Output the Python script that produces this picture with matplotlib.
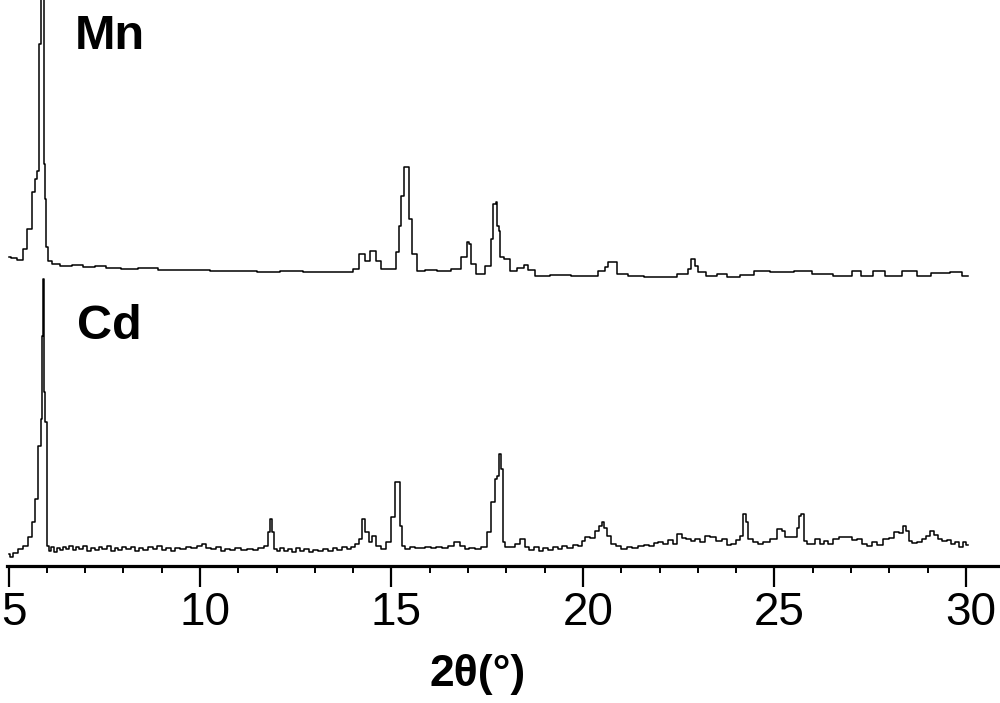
import matplotlib
matplotlib.use('Agg')
import matplotlib.pyplot as plt
import matplotlib.transforms as mtransforms
from matplotlib.ticker import MultipleLocator

plt.rcParams['font.family'] = ['Liberation Sans', 'DejaVu Sans']

# 2theta (deg) and intensity (arb. units)
mn_x = [5.00, 5.15, 5.30, 5.43, 5.56, 5.64, 5.72, 5.77, 5.82, 5.87, 5.90, 5.93, 5.98, 5.99,
        6.08, 6.21, 6.50, 6.80, 7.10, 7.39, 7.70, 8.17, 8.60, 9.20, 10.00, 10.50, 11.20,
        11.80, 12.40, 13.00, 13.50, 13.92, 14.05, 14.24, 14.37, 14.52, 14.66, 14.78,
        15.10, 15.15, 15.22, 15.30, 15.35, 15.43, 15.48, 15.61, 15.74, 16.00, 16.40,
        16.71, 16.92, 17.00, 17.05, 17.10, 17.31, 17.57, 17.62, 17.70, 17.75, 17.78,
        17.83, 17.86, 18.02, 18.17, 18.41, 18.49, 18.62, 18.88, 19.40, 20.00, 20.31,
        20.50, 20.63, 20.70, 20.83, 20.96, 21.41, 21.80, 22.19, 22.71, 22.79, 22.87,
        22.98, 23.05, 23.40, 23.58, 23.92, 24.30, 24.62, 25.15, 25.85, 26.11, 26.97,
        27.10, 27.41, 27.76, 28.02, 28.62, 28.80, 29.40, 29.77, 30.05]
mn_y = [309, 308, 306, 317, 337, 374, 387, 395, 522, 620, 640, 402, 367, 319,
        305, 302, 300, 301, 299, 300, 298, 297, 298, 296, 296, 295, 295,
        294, 295, 294, 294, 294, 297, 312, 305, 315, 305, 297,
        297, 314, 340, 370, 399, 399, 347, 312, 295, 296, 295,
        297, 309, 324, 322, 302, 292, 300, 327, 362, 364, 340,
        335, 309, 307, 295, 298, 301, 296, 290, 291, 290, 290,
        295, 299, 304, 304, 292, 290, 289, 289, 292, 297, 307,
        300, 294, 290, 292, 289, 291, 295, 294, 295, 292, 290,
        295, 290, 295, 290, 295, 290, 293, 294, 290]

cd_x = [5.00, 5.08, 5.17, 5.30, 5.45, 5.56, 5.64, 5.74, 5.82, 5.87, 5.90, 5.91, 5.95, 5.98,
        6.01, 6.08, 6.15, 6.22, 6.30, 6.38, 6.46, 6.55, 6.63, 6.72, 6.80, 6.90, 7.00,
        7.10, 7.20, 7.30, 7.40, 7.50, 7.62, 7.72, 7.82, 7.92, 8.02, 8.12, 8.25, 8.35,
        8.45, 8.58, 8.70, 8.82, 8.95, 9.05, 9.18, 9.30, 9.42, 9.55, 9.70, 9.85, 10.00,
        10.10, 10.22, 10.35, 10.48, 10.60, 10.72, 10.85, 11.00, 11.15, 11.30, 11.45,
        11.60, 11.75, 11.80, 11.85, 11.91, 11.96, 12.05, 12.15, 12.25, 12.35, 12.45,
        12.55, 12.65, 12.78, 12.90, 13.02, 13.15, 13.28, 13.40, 13.52, 13.65, 13.78,
        13.90, 14.00, 14.10, 14.19, 14.27, 14.37, 14.44, 14.52, 14.66, 14.78, 14.91,
        15.04, 15.15, 15.22, 15.25, 15.30, 15.40, 15.55, 15.68, 15.80, 15.95, 16.10,
        16.25, 16.40, 16.53, 16.71, 16.85, 16.97, 17.10, 17.25, 17.44, 17.57, 17.65,
        17.75, 17.78, 17.83, 17.89, 17.91, 18.04, 18.17, 18.30, 18.41, 18.54, 18.65,
        18.78, 18.90, 19.02, 19.14, 19.28, 19.40, 19.52, 19.66, 19.80, 19.92, 20.02,
        20.11, 20.25, 20.37, 20.45, 20.52, 20.58, 20.65, 20.79, 20.92, 21.05, 21.23,
        21.35, 21.50, 21.67, 21.80, 21.90, 22.01, 22.15, 22.30, 22.40, 22.53, 22.65,
        22.75, 22.87, 23.00, 23.12, 23.25, 23.40, 23.55, 23.70, 23.82, 23.92, 24.05,
        24.15, 24.23, 24.28, 24.36, 24.50, 24.62, 24.80, 24.96, 25.15, 25.23, 25.33,
        25.54, 25.62, 25.67, 25.74, 25.80, 25.90, 26.00, 26.12, 26.25, 26.35, 26.45,
        26.60, 26.79, 26.95, 27.10, 27.23, 27.35, 27.49, 27.62, 27.75, 27.94, 28.05,
        28.20, 28.30, 28.41, 28.47, 28.54, 28.65, 28.80, 28.92, 29.00, 29.11, 29.20,
        29.32, 29.45, 29.55, 29.66, 29.78, 29.88, 29.95, 30.05]
cd_y = [12, 9, 13, 17, 20, 29, 44, 67, 120, 147, 230, 287, 174, 144,
        20, 15, 19, 14, 18, 16, 19, 17, 20, 16, 19, 17, 20,
        15, 18, 16, 19, 17, 20, 15, 18, 16, 19, 17, 19, 15,
        18, 16, 19, 17, 20, 16, 18, 15, 18, 17, 19, 18, 20,
        22, 18, 17, 19, 15, 17, 16, 18, 16, 17, 16,
        18, 20, 34, 47, 34, 17, 15, 18, 15, 17, 14,
        18, 15, 17, 14, 16, 15, 17, 15, 18, 16, 19,
        17, 19, 22, 27, 47, 34, 24, 30, 20, 17, 24,
        49, 84, 84, 40, 20, 17, 19, 18, 18, 19, 18,
        19, 18, 20, 24, 20, 17, 18, 17, 19, 34, 64,
        87, 90, 112, 97, 24, 19, 19, 22, 27, 19, 16,
        19, 15, 18, 16, 19, 17, 20, 18, 21, 20, 25,
        29, 28, 35, 40, 44, 38, 30, 22, 20, 17, 19,
        18, 20, 21, 20, 23, 24, 22, 26, 22, 32, 28,
        27, 25, 27, 24, 30, 29, 25, 27, 21, 22, 26,
        30, 52, 44, 27, 24, 22, 24, 27, 37, 35, 29,
        29, 38, 50, 52, 25, 22, 22, 27, 22, 25, 22,
        27, 29, 29, 26, 27, 22, 20, 24, 21, 27, 28,
        34, 33, 40, 35, 25, 23, 24, 27, 30, 35, 31,
        27, 25, 26, 22, 24, 19, 24, 21]

labels = ['Mn', 'Cd']

fig = plt.figure(figsize=(10, 7.03), dpi=100)
ax = fig.add_axes([0.007, 0.195, 0.993, 0.805])

ax.plot(mn_x, mn_y, color='black', lw=1.1, drawstyle='steps-mid')
ax.plot(cd_x, cd_y, color='black', lw=1.1, drawstyle='steps-mid')

ax.text(6.72, 517, labels[0], fontsize=35, fontweight='bold', ha='left', va='baseline')
ax.text(6.78, 227, labels[1], fontsize=35, fontweight='bold', ha='left', va='baseline')

ax.set_xlim(4.96, 30.89)
ax.set_ylim(0, 566)

for s in ['left', 'right', 'top']:
    ax.spines[s].set_visible(False)
ax.spines['bottom'].set_linewidth(2.3)
ax.set_yticks([])

ax.xaxis.set_major_locator(MultipleLocator(5))
ax.xaxis.set_minor_locator(MultipleLocator(1))
ax.tick_params(axis='x', which='major', direction='out', length=15, width=1.6,
               labelsize=33, pad=3)
ax.tick_params(axis='x', which='minor', direction='out', length=5, width=1.4)

# labels sit a little to the right of their ticks
shift = mtransforms.ScaledTranslation(5 / 100, 0, fig.dpi_scale_trans)
for lab in ax.get_xticklabels():
    lab.set_transform(lab.get_transform() + shift)

ax.set_xlabel('2θ(°)', fontsize=32, fontweight='bold')
ax.xaxis.set_label_coords(0.474, -0.155)

fig.savefig('out.png', dpi=100)
